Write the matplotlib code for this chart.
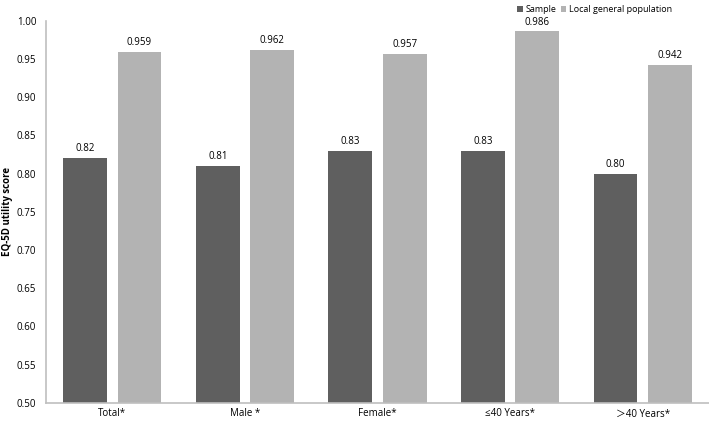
import numpy as np
import matplotlib
matplotlib.use("Agg")
import matplotlib.pyplot as plt

plt.rcParams['font.family'] = ['Open Sans', 'DejaVu Sans', 'Noto Sans CJK SC']

categories = ["Total*", "Male *", "Female*", "≤40 Years*", "＞40 Years*"]
sample = [0.82, 0.81, 0.83, 0.83, 0.80]
general = [0.959, 0.962, 0.957, 0.986, 0.942]
sample_labels = ["0.82", "0.81", "0.83", "0.83", "0.80"]
general_labels = ["0.959", "0.962", "0.957", "0.986", "0.942"]

dark = "#5f5f5f"
light = "#b3b3b3"

fig = plt.figure(figsize=(7.09, 4.21), dpi=100)
ax = fig.add_axes([0.065, 0.043, 0.935, 0.908])

x = np.arange(len(categories))
w = 0.33
off = 0.205
b1 = ax.bar(x - off, sample, w, color=dark, label="Sample")
b2 = ax.bar(x + off, general, w, color=light, label="Local general population")

for rect, lab in zip(b1, sample_labels):
    ax.text(rect.get_x() + rect.get_width() / 2, rect.get_height() + 0.005, lab,
            ha="center", va="bottom", fontsize=7)
for rect, lab in zip(b2, general_labels):
    ax.text(rect.get_x() + rect.get_width() / 2, rect.get_height() + 0.005, lab,
            ha="center", va="bottom", fontsize=7)

ax.set_ylim(0.5, 1.0)
ax.set_xlim(-0.5, len(categories) - 0.5)
ax.set_yticks(np.arange(0.5, 1.001, 0.05))
ax.set_yticklabels(["{:.2f}".format(v) for v in np.arange(0.5, 1.001, 0.05)])
ax.set_xticks(x)
ax.set_xticklabels(categories, fontsize=7)
ax.tick_params(axis="y", labelsize=7, length=0, pad=7)
ax.tick_params(axis="x", length=0, pad=4)
ax.set_ylabel("EQ-5D utility score", fontsize=7, fontweight="bold")
ax.yaxis.set_label_coords(-0.05, 0.5)

for s in ["top", "right"]:
    ax.spines[s].set_visible(False)
for s in ["left", "bottom"]:
    ax.spines[s].set_color("#bfbfbf")
    ax.spines[s].set_linewidth(1.2)

ax.legend(loc="upper right", bbox_to_anchor=(0.95, 1.05), ncol=2, frameon=False,
          fontsize=6.5, handlelength=0.6, handleheight=0.6, handletextpad=0.3,
          columnspacing=0.5, borderaxespad=0)

fig.savefig("out.png", dpi=100)
